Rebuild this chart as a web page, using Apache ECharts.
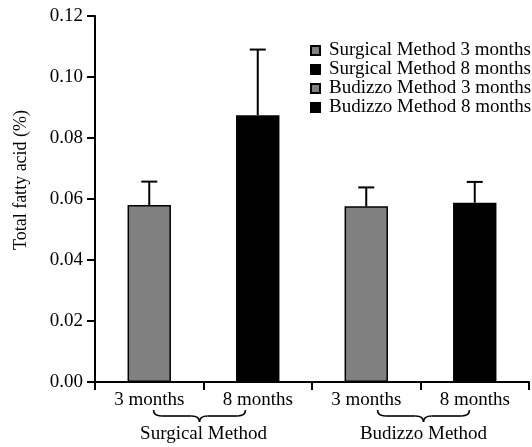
<!DOCTYPE html>
<html>
<head>
<meta charset="utf-8">
<script src="https://cdn.jsdelivr.net/npm/echarts@6/dist/echarts.min.js"></script>
<style>html,body{margin:0;padding:0;background:#fff}#c{width:532px;height:447px}</style>
</head>
<body>
<div id="c"></div>
<script>
const categories = ['3 months', '8 months', '3 months ', '8 months '];
const seriesNames = ['Surgical Method 3 months', 'Surgical Method 8 months', 'Budizzo Method 3 months', 'Budizzo Method 8 months'];
const means = [0.0580, 0.0875, 0.0576, 0.0588];
const upperErr = [0.0657, 0.1090, 0.0638, 0.0656];
const groupLabels = ['Surgical Method', 'Budizzo Method'];
const yTicks = [0, 0.02, 0.04, 0.06, 0.08, 0.10, 0.12];
const barColors = ['#808080', '#000000', '#808080', '#000000'];

const FONT = "'Liberation Serif', 'Times New Roman', serif";
const FS = 19;
const chart = echarts.init(document.getElementById('c'), null, {renderer: 'canvas'});

const barSeries = seriesNames.map((name, i) => ({
  name: name,
  type: 'bar',
  barWidth: '40%',
  barGap: '-100%',
  data: categories.map((c, j) => j === i ? means[i] : '-'),
  itemStyle: {color: barColors[i], borderColor: '#000', borderWidth: 1.5},
  emphasis: {disabled: true},
  z: 2
}));

const errSeries = {
  type: 'custom',
  name: 'err',
  data: categories.map((c, i) => [i, means[i], upperErr[i]]),
  renderItem: function (params, api) {
    const x = api.value(0);
    const p0 = api.coord([x, api.value(1)]);
    const p1 = api.coord([x, api.value(2)]);
    const hw = 8;
    return {
      type: 'group',
      children: [
        {type: 'line', shape: {x1: p0[0], y1: p0[1], x2: p1[0], y2: p1[1]}, style: {stroke: '#000', lineWidth: 2}},
        {type: 'line', shape: {x1: p1[0] - hw, y1: p1[1], x2: p1[0] + hw, y2: p1[1]}, style: {stroke: '#000', lineWidth: 2}}
      ]
    };
  },
  z: 3,
  silent: true
};

chart.setOption({
  animation: false,
  grid: {left: 95, right: 3, top: 16, bottom: 65, containLabel: false},
  legend: {
    orient: 'vertical',
    left: 305,
    top: 36,
    icon: 'rect',
    itemWidth: 9,
    itemHeight: 9,
    itemGap: 0,
    data: seriesNames,
    textStyle: {fontFamily: FONT, fontSize: FS, color: '#000', lineHeight: 19, padding: [0, 0, 0, 4]},
    selectedMode: false
  },
  xAxis: {
    type: 'category',
    data: categories,
    boundaryGap: true,
    axisLine: {lineStyle: {color: '#000', width: 2}},
    axisTick: {show: true, length: 8, lineStyle: {color: '#000', width: 2}},
    axisLabel: {fontFamily: FONT, fontSize: FS, color: '#000', margin: 9, formatter: v => v.trim()}
  },
  yAxis: {
    type: 'value',
    min: yTicks[0],
    max: yTicks[yTicks.length - 1],
    interval: 0.02,
    name: 'Total fatty acid (%)',
    nameLocation: 'middle',
    nameGap: 65,
    nameTextStyle: {fontFamily: FONT, fontSize: 18, color: '#000', padding: [0, 0, 0, 38]},
    axisLine: {show: true, lineStyle: {color: '#000', width: 2}},
    axisTick: {show: true, length: 8, lineStyle: {color: '#000', width: 2}},
    axisLabel: {fontFamily: FONT, fontSize: FS, color: '#000', margin: 12, formatter: v => v.toFixed(2)},
    splitLine: {show: false}
  },
  series: barSeries.concat([errSeries])
});

function bracePieces(xl, xm, xr, y0) {
  const y1 = y0 + 6, y2 = y0 + 12, r = 8;
  const st = {stroke: '#000', lineWidth: 1.6, fill: null};
  return [
    {type: 'bezierCurve', shape: {x1: xl, y1: y0, cpx1: xl, cpy1: y1, x2: xl + r, y2: y1}, style: st},
    {type: 'line', shape: {x1: xl + r, y1: y1, x2: xm - r, y2: y1}, style: st},
    {type: 'bezierCurve', shape: {x1: xm - r, y1: y1, cpx1: xm, cpy1: y1, x2: xm, y2: y2}, style: st},
    {type: 'bezierCurve', shape: {x1: xm, y1: y2, cpx1: xm, cpy1: y1, x2: xm + r, y2: y1}, style: st},
    {type: 'line', shape: {x1: xm + r, y1: y1, x2: xr - r, y2: y1}, style: st},
    {type: 'bezierCurve', shape: {x1: xr - r, y1: y1, cpx1: xr, cpy1: y1, x2: xr, y2: y0}, style: st}
  ];
}

const cx = categories.map(c => chart.convertToPixel({xAxisIndex: 0}, c));
const yBase = chart.convertToPixel({yAxisIndex: 0}, 0);
const mids = [(cx[0] + cx[1]) / 2 - 4, (cx[2] + cx[3]) / 2 + 3];
let graphics = [];
mids.forEach((m, g) => {
  graphics = graphics.concat(bracePieces(m - 46, m, m + 46, yBase + 28));
  graphics.push({
    type: 'text',
    x: g === 0 ? m + 4 : m,
    y: yBase + 52,
    style: {text: groupLabels[g], font: FS + 'px ' + FONT, fill: '#000', textAlign: 'center', textVerticalAlign: 'middle'}
  });
});
chart.setOption({graphic: graphics});
</script>
</body>
</html>
